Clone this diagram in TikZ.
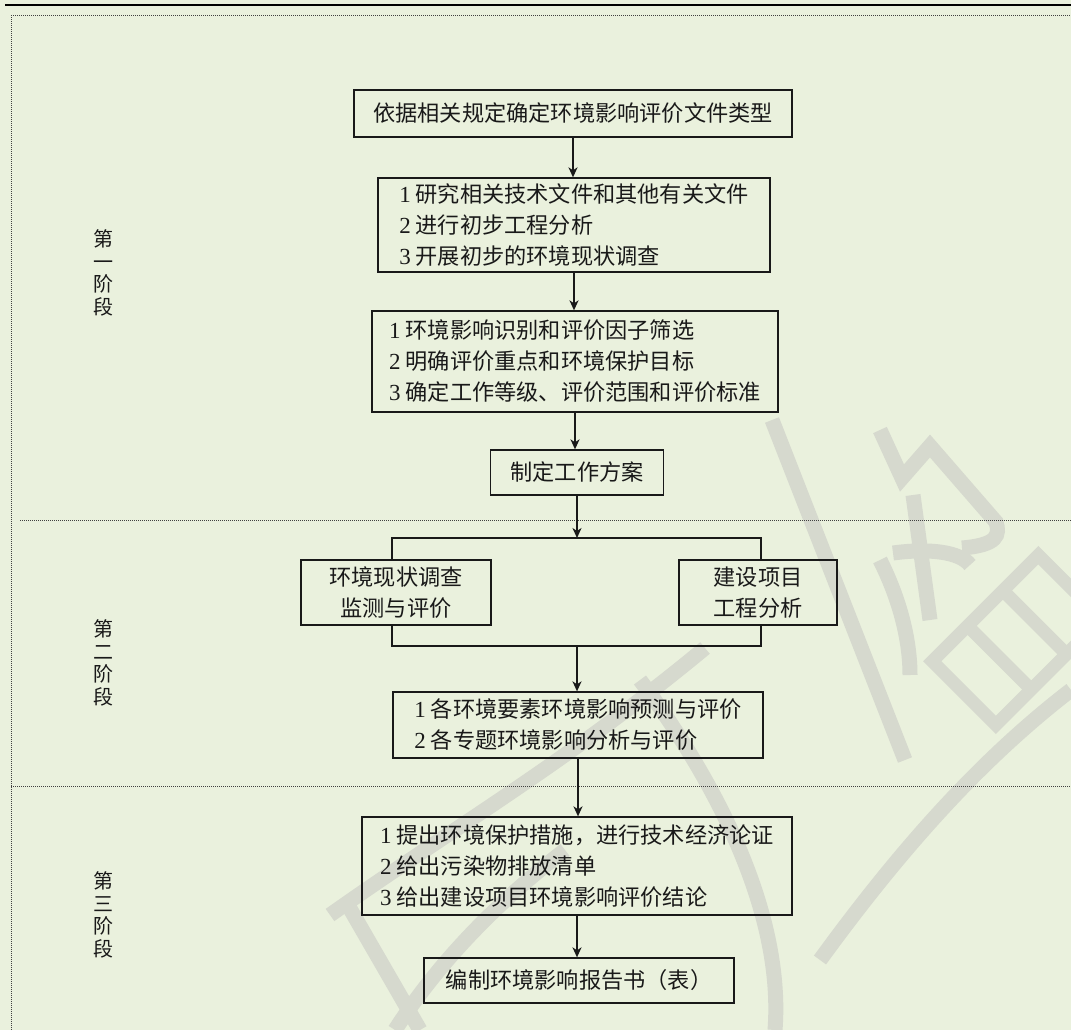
\documentclass[tikz,border=0pt]{standalone}
\usepackage{fontspec}
\setmainfont{Liberation Serif}
\newfontfamily\cjk{Noto Sans CJK SC}
\usetikzlibrary{arrows.meta}
\definecolor{bg}{RGB}{234,241,221}
\definecolor{wm}{RGB}{214,217,206}
\definecolor{ink}{RGB}{25,25,25}
\newcommand\numb[1]{{\rmfamily\fontsize{23}{31}\selectfont #1}\hspace{5pt}}
\begin{document}
\begin{tikzpicture}[x=1pt,y=-1pt,
  box/.style={draw=ink, line width=1.3pt, inner sep=0pt, font=\cjk\fontsize{22.2}{31}\selectfont, text=ink},
  lbox/.style={box, align=left},
  cbox/.style={box, align=center},
  arr/.style={draw=ink, line width=2.5pt, -{Stealth[length=10pt,width=9pt,inset=3pt]}},
  link/.style={draw=ink, line width=1.3pt},
  dotline/.style={draw=black!75, line width=1pt, dash pattern=on 1pt off 1pt},
  stage/.style={font=\cjk\fontsize{20}{22.5}\selectfont, align=center, text=ink, inner sep=0pt},
  wmk/.style={draw=wm, line width=15pt, line cap=butt}]

\fill[bg] (0,0) rectangle (1071,1030);
\useasboundingbox (0,0) rectangle (1071,1030);

% watermark (approximate)
\begin{scope}
\clip (0,0) rectangle (1071,1030);
\draw[wmk] (330,915) .. controls (450,830) and (570,760) .. (705,648);
\draw[wmk] (395,1030) .. controls (440,960) and (500,900) .. (565,850);
\draw[wmk] (345,900) -- (420,1030);
\draw[wmk] (640,680) .. controls (700,760) and (785,900) .. (775,1030);
\draw[wmk] (1071,690) .. controls (980,760) and (900,850) .. (820,960);
\draw[wmk] (772,420) -- (905,760);
\draw[wmk] (880,430) -- (902,478) -- (930,446) -- (996,522) .. controls (1000,535) and (998,545) .. (962,548);
\draw[wmk] (913,495) -- (930,620);
\draw[wmk] (893,553) .. controls (930,548) and (960,552) .. (970,565);
\draw[wmk] (880,560) .. controls (900,600) and (910,640) .. (910,675);
\begin{scope}[rotate around={45:(1010,640)}]
\draw[wm, line width=13pt] (940,600) rectangle (1090,690);
\draw[wm, line width=13pt] (990,600) -- (990,690) (1040,600) -- (1040,690);
\end{scope}
\end{scope}

% frame
\draw[black, line width=2.6pt] (5,5) -- (1071,5);
\draw[dotline] (11,1030) -- (11,16) -- (1071,16);
\draw[dotline] (20,520) -- (1071,520);
\draw[dotline] (11,786) -- (1071,786);

% stage labels
\node[stage] (s1) at (103,273) {第\\一\\阶\\段};
\node[stage] (s2) at (103,663) {第\\二\\阶\\段};
\node[stage] (s3) at (103,915) {第\\三\\阶\\段};

% boxes
\node[cbox, minimum width=438pt, minimum height=47pt] (b1) at (573,113.5) {依据相关规定确定环境影响评价文件类型};
\node[lbox, minimum width=392pt, minimum height=94pt] (b2) at (574,225)
  {\numb{1}研究相关技术文件和其他有关文件\\\numb{2}进行初步工程分析\\\numb{3}开展初步的环境现状调查};
\node[lbox, minimum width=406pt, minimum height=101pt] (b3) at (575,361.5)
  {\numb{1}环境影响识别和评价因子筛选\\\numb{2}明确评价重点和环境保护目标\\\numb{3}确定工作等级、评价范围和评价标准};
\node[cbox, minimum width=173pt, minimum height=45pt] (b4) at (577,472.5) {制定工作方案};
\node[cbox, minimum width=190pt, minimum height=65pt] (bL) at (396,592.5) {环境现状调查\\监测与评价};
\node[cbox, minimum width=158pt, minimum height=65pt] (bR) at (758,592.5) {建设项目\\工程分析};
\node[lbox, minimum width=370pt, minimum height=66pt] (b5) at (578,725)
  {\numb{1}各环境要素环境影响预测与评价\\\numb{2}各专题环境影响分析与评价};
\node[lbox, minimum width=430pt, minimum height=98pt] (b6) at (577,866)
  {\numb{1}提出环境保护措施，进行技术经济论证\\\numb{2}给出污染物排放清单\\\numb{3}给出建设项目环境影响评价结论};
\node[cbox, minimum width=310pt, minimum height=45pt] (b7) at (579,980.5) {编制环境影响报告书（表）};

% bracket
\coordinate (bx1) at (392,538);
\coordinate (bx2) at (761,538);
\coordinate (by1) at (392,646);
\coordinate (by2) at (761,646);
\coordinate (bt) at (577,538);
\coordinate (bb) at (577,646);
\draw[link] (bL.north -| bx1) -- (bx1) -- (bx2) -- (bR.north -| bx2);
\draw[link] (bL.south -| by1) -- (by1) -- (by2) -- (bR.south -| by2);

% arrows
\draw[arr] (b1.south) -- (b1.south |- b2.north);
\draw[arr] (b2.south) -- (b2.south |- b3.north);
\draw[arr] (b3.south) -- (b3.south |- b4.north);
\draw[arr] (b4.south) -- (b4.south |- bt);
\draw[arr] (bb) -- (bb |- b5.north);
\draw[arr] (b5.south) -- (b5.south |- b6.north);
\draw[arr] (b6.south) -- (b6.south |- b7.north);
\end{tikzpicture}
\end{document}
